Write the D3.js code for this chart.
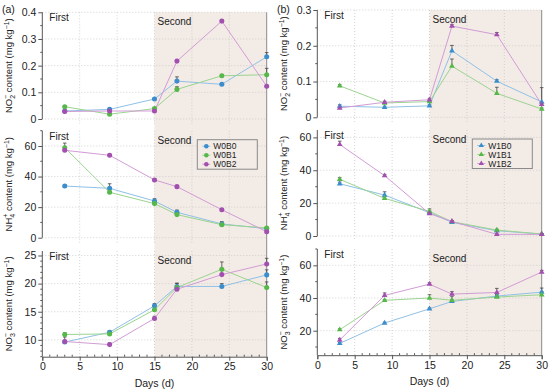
<!DOCTYPE html>
<html>
<head>
<meta charset="utf-8">
<script src="https://cdn.jsdelivr.net/npm/d3@7"></script>
<style>
  body { margin: 0; background: #fff; }
  svg { font-family: "Liberation Sans", Arial, sans-serif; }
</style>
</head>
<body>
<svg width="550" height="391"></svg>
<script>
// sampling days
var days = [3, 9, 15, 18, 24, 30]

// (a) W0 treatments, circles
var a_no2_B0 = [0.030, 0.036, 0.075, 0.142, 0.130, 0.233]
var a_no2_B1 = [0.046, 0.018, 0.039, 0.111, 0.162, 0.166]
var a_no2_B2 = [0.028, 0.030, 0.030, 0.217, 0.367, 0.123]
var a_nh4_B0 = [33.8, 32.3, 24.0, 16.6, 9.0, 5.9]
var a_nh4_B1 = [58.9, 29.7, 22.3, 15.1, 8.5, 6.4]
var a_nh4_B2 = [57.2, 53.9, 37.8, 33.4, 18.3, 3.9]
var a_no3_B0 = [9.6, 11.35, 16.05, 19.5, 19.5, 21.55]
var a_no3_B1 = [10.95, 11.05, 15.35, 19.3, 22.55, 19.3]
var a_no3_B2 = [9.7, 9.15, 13.8, 19.0, 21.6, 23.5]

// (b) W1 treatments, triangles
var b_no2_B0 = [0.031, 0.028, 0.032, 0.186, 0.101, 0.043]
var b_no2_B1 = [0.088, 0.040, 0.044, 0.143, 0.067, 0.023]
var b_no2_B2 = [0.026, 0.042, 0.049, 0.255, 0.231, 0.036]
var b_nh4_B0 = [31.8, 24.9, 14.2, 8.3, 3.2, 1.2]
var b_nh4_B1 = [34.5, 22.9, 15.0, 8.7, 3.6, 1.2]
var b_nh4_B2 = [55.7, 36.7, 13.6, 8.9, 1.0, 1.0]
var b_no3_B0 = [12.2, 24.7, 33.4, 37.9, 41.2, 43.6]
var b_no3_B1 = [20.6, 38.6, 40.0, 38.6, 40.6, 42.0]
var b_no3_B2 = [14.3, 41.6, 48.5, 42.4, 43.4, 55.9]

// error bars (upper)
var a_no2_err = [[0.003,0.004,0.004,0.016,0.004,0.016],[0.004,0.004,0.004,0.010,0.005,0.024],[0.003,0.003,0.003,0.005,0.004,0.004]]
var a_nh4_err = [[0.8,3,1.5,1.5,1,0.5],[3,1.5,1,1,2,0.5],[1,0.8,0.8,0.8,0.8,0.5]]
var a_no3_err = [[0.3,0.3,0.4,0.5,0.5,0.9],[0.3,0.3,0.3,0.8,1.3,1.0],[0.8,0.3,0.4,0.4,0.8,1.0]]
var b_no2_err = [[0.004,0.003,0.003,0.015,0.004,0.040],[0.003,0.003,0.003,0.020,0.017,0.003],[0.003,0.003,0.004,0.004,0.006,0.003]]
var b_nh4_err = [[1,2,1,0.5,0.5,0.3],[1,1,1.5,0.5,0.5,0.3],[2,0.8,1,0.5,0.3,0.3]]
var b_no3_err = [[0.5,0.5,0.5,1,1,2.5],[0.5,0.5,2,2.5,1,2],[1,1.5,0.8,1.5,2.5,1]]

var namesA = ["W0B0", "W0B1", "W0B2"]
var namesB = ["W1B0", "W1B1", "W1B2"]
var dotColors = ["#3b8dcb", "#55b848", "#a24fb0"]
var lineColors = ["#8fc1e6", "#9bd48f", "#d29cd6"]

var svg = d3.select("svg")

var cols = [
  { x0: 42.3, x1: 266.7, tag: "(a)", tagX: 2, labX: 12, names: namesA, sym: d3.symbolCircle,
    panels: [
      { dom: [0, 0.4], rng: [119, 12.3], ticks: [0, 0.1, 0.2, 0.3, 0.4], minor: d3.range(0, 0.401, 0.05), fmt: d3.format(".1~f"), data: [a_no2_B0, a_no2_B1, a_no2_B2], err: a_no2_err, ion: "NO", sub: "2", sup: "−" },
      { dom: [0, 70], rng: [237.7, 130.7], ticks: [0, 20, 40, 60], minor: d3.range(0, 71, 10), fmt: d3.format("d"), data: [a_nh4_B0, a_nh4_B1, a_nh4_B2], err: a_nh4_err, ion: "NH", sub: "4", sup: "+", legend: true },
      { dom: [7, 25.8], rng: [356.7, 251], ticks: [10, 15, 20, 25], minor: d3.range(7, 25.5, 1), fmt: d3.format("d"), data: [a_no3_B0, a_no3_B1, a_no3_B2], err: a_no3_err, ion: "NO", sub: "3", sup: "−" }
    ] },
  { x0: 317.3, x1: 541.7, tag: "(b)", tagX: 277, labX: 287, names: namesB, sym: d3.symbolTriangle,
    panels: [
      { dom: [0, 0.3], rng: [117.3, 10], ticks: [0, 0.1, 0.2, 0.3], minor: d3.range(0, 0.301, 0.05), fmt: d3.format(".1~f"), data: [b_no2_B0, b_no2_B1, b_no2_B2], err: b_no2_err, ion: "NO", sub: "2", sup: "−" },
      { dom: [0, 64.5], rng: [236, 130], ticks: [0, 20, 40, 60], minor: d3.range(0, 64, 10), fmt: d3.format("d"), data: [b_nh4_B0, b_nh4_B1, b_nh4_B2], err: b_nh4_err, ion: "NH", sub: "4", sup: "+", legend: true },
      { dom: [5, 70], rng: [355.2, 249], ticks: [20, 40, 60], minor: d3.range(10, 70.1, 10), fmt: d3.format("d"), data: [b_no3_B0, b_no3_B1, b_no3_B2], err: b_no3_err, ion: "NO", sub: "3", sup: "−" }
    ] }
]

cols.forEach(function(c) {
  var x = d3.scaleLinear().domain([0, 30]).range([c.x0, c.x1])
  var top = c.panels[0].rng[1]
  var bottom = c.panels[2].rng[0]

  // second period shading
  svg.append("rect")
    .attr("x", x(15)).attr("y", top)
    .attr("width", x(30) - x(15)).attr("height", bottom - top)
    .attr("fill", "#f3ebe6")
  svg.append("line")
    .attr("x1", x(30)).attr("x2", x(30)).attr("y1", top).attr("y2", bottom)
    .attr("stroke", "#8a8a8a").attr("stroke-width", 1)

  svg.append("text").attr("x", c.tagX).attr("y", 13)
    .attr("font-size", 10.5).attr("fill", "#222").text(c.tag)

  c.panels.forEach(function(p, pi) {
    var y = d3.scaleLinear().domain(p.dom).range(p.rng)
    var g = svg.append("g")

    // grid
    g.selectAll(".gx").data([5, 10, 15, 20, 25]).enter().append("line")
      .attr("x1", d => x(d)).attr("x2", d => x(d))
      .attr("y1", p.rng[1]).attr("y2", p.rng[0] + (pi == 2 ? 0 : 5))
      .attr("stroke", "#c8c8c8").attr("stroke-width", 0.8).attr("stroke-dasharray", "1,2")
    g.selectAll(".gy").data(p.ticks.filter(t => t > p.dom[0])).enter().append("line")
      .attr("x1", c.x0).attr("x2", c.x1)
      .attr("y1", d => y(d)).attr("y2", d => y(d))
      .attr("stroke", "#c8c8c8").attr("stroke-width", 0.8).attr("stroke-dasharray", "1,2")
    if (pi < 2) {
      g.append("line").attr("x1", c.x0).attr("x2", c.x1)
        .attr("y1", y(0)).attr("y2", y(0))
        .attr("stroke", "#c8c8c8").attr("stroke-width", 0.8).attr("stroke-dasharray", "1,2")
    }

    // y axis
    var yAxis = d3.axisLeft(y).tickValues(p.ticks).tickFormat(p.fmt).tickSize(4).tickPadding(2)
    var ya = g.append("g").attr("transform", "translate(" + c.x0 + ",0)").call(yAxis)
    ya.select(".domain").remove()
    ya.append("line").attr("x1", 0).attr("x2", 0).attr("y1", p.rng[0]).attr("y2", p.rng[1]).attr("stroke", "#555")
    ya.selectAll("line").attr("stroke", "#555")
    ya.selectAll("text").attr("font-size", 10.5).attr("fill", "#222").attr("font-family", "Liberation Sans, Arial, sans-serif")
    ya.selectAll(".minor").data(p.minor.filter(v => p.ticks.indexOf(+v.toFixed(3)) < 0)).enter().append("line")
      .attr("x1", -2).attr("x2", 0).attr("y1", d => y(d)).attr("y2", d => y(d)).attr("stroke", "#555")

    // y label
    var midY = (p.rng[0] + p.rng[1]) / 2
    var lab = svg.append("text")
      .attr("transform", "translate(" + c.labX + "," + midY + ") rotate(-90)")
      .attr("text-anchor", "middle").attr("font-size", 9.5).attr("fill", "#222")
    lab.append("tspan").text(p.ion)
    lab.append("tspan").attr("font-size", 7).attr("dy", 2.5).text(p.sub)
    lab.append("tspan").attr("font-size", 7).attr("dx", -4).attr("dy", -6.5).text(p.sup)
    lab.append("tspan").attr("dy", 4).text(" content (mg kg")
    lab.append("tspan").attr("font-size", 7).attr("dy", -3.5).text("−1")
    lab.append("tspan").attr("dy", 3.5).text(")")

    // period labels
    svg.append("text").attr("x", x(0) + 7).attr("y", p.rng[1] + 9)
      .attr("font-size", 10).attr("fill", "#222").text("First")
    svg.append("text").attr("x", x(15) + 3).attr("y", p.rng[1] + 13)
      .attr("font-size", 10).attr("fill", "#222").text("Second")

    // error bars
    p.data.forEach(function(s, si) {
      s.forEach(function(v, i) {
        var e = p.err[si][i]
        g.append("line").attr("x1", x(days[i])).attr("x2", x(days[i]))
          .attr("y1", y(v)).attr("y2", y(v + e)).attr("stroke", "#444").attr("stroke-width", 0.8)
        g.append("line").attr("x1", x(days[i]) - 1.8).attr("x2", x(days[i]) + 1.8)
          .attr("y1", y(v + e)).attr("y2", y(v + e)).attr("stroke", "#444").attr("stroke-width", 0.8)
      })
    })

    // lines and markers
    var line = d3.line().x((d, i) => x(days[i])).y(d => y(d))
    p.data.forEach(function(s, si) {
      g.append("path").attr("d", line(s)).attr("fill", "none")
        .attr("stroke", lineColors[si]).attr("stroke-width", 1)
    })
    p.data.forEach(function(s, si) {
      g.selectAll(".m" + si).data(s).enter().append("path")
        .attr("transform", (d, i) => "translate(" + x(days[i]) + "," + y(d) + ")")
        .attr("d", d3.symbol().type(c.sym).size(c.sym == d3.symbolCircle ? 20 : 14))
        .attr("fill", dotColors[si])
    })

    // legend
    if (p.legend) {
      var lx = x(0) + 155, ly = p.rng[1] + 9
      var lg = svg.append("g").attr("transform", "translate(" + lx + "," + ly + ")")
      lg.append("rect").attr("x", 0).attr("y", 0).attr("width", 60).attr("height", 29.5)
        .attr("fill", "#f3ebe6").attr("stroke", "#8a8a8a").attr("stroke-width", 1)
      c.names.forEach(function(n, i) {
        var ry = 6.5 + i * 9
        lg.append("line").attr("x1", 5).attr("x2", 13).attr("y1", ry).attr("y2", ry)
          .attr("stroke", lineColors[i]).attr("stroke-width", 1)
        lg.append("path").attr("transform", "translate(9," + ry + ")")
          .attr("d", d3.symbol().type(c.sym).size(c.sym == d3.symbolCircle ? 16 : 12))
          .attr("fill", dotColors[i])
        lg.append("text").attr("x", 16).attr("y", ry + 3.2)
          .attr("font-size", 8.5).attr("fill", "#222").text(n)
      })
    }
  })

  // x axis
  var xAxis = d3.axisBottom(x).tickValues([0, 5, 10, 15, 20, 25, 30]).tickSize(4).tickPadding(2)
  var xa = svg.append("g").attr("transform", "translate(0," + bottom + ")").call(xAxis)
  xa.selectAll("path,line").attr("stroke", "#555")
  xa.selectAll("text").attr("font-size", 10.5).attr("fill", "#222").attr("font-family", "Liberation Sans, Arial, sans-serif")
  xa.selectAll(".minor").data(d3.range(1, 30).filter(v => v % 5)).enter().append("line")
    .attr("x1", d => x(d)).attr("x2", d => x(d)).attr("y1", -2).attr("y2", 0).attr("stroke", "#555")
  svg.append("text").attr("x", (c.x0 + c.x1) / 2).attr("y", bottom + 30)
    .attr("text-anchor", "middle").attr("font-size", 10.5).attr("fill", "#222").text("Days (d)")
})
</script>
</body>
</html>
